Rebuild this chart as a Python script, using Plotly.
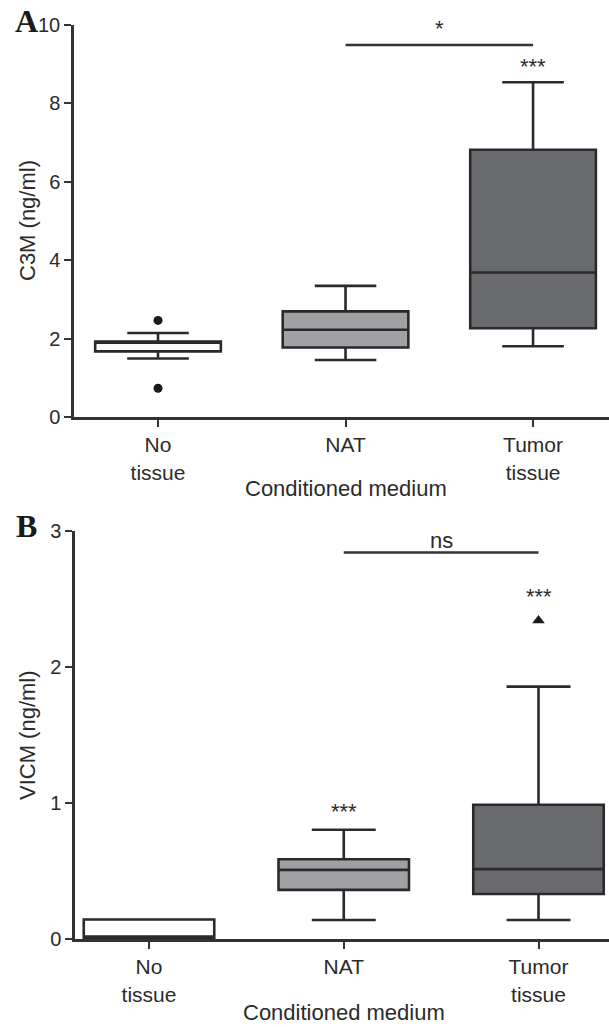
import plotly.graph_objects as go

W, H = 609, 1027

categories = ["No<br>tissue", "NAT", "Tumor<br>tissue"]
cat_pos = [0, 1, 2]
fills = ["#ffffff", "#a0a1a4", "#6a6b6f"]

# Panel A: C3M (ng/ml)
a_lower = [1.50, 1.46, 1.81]
a_q1 = [1.68, 1.78, 2.27]
a_median = [1.91, 2.23, 3.69]
a_q3 = [1.93, 2.70, 6.82]
a_upper = [2.15, 3.35, 8.54]
a_out_x = [0, 0]
a_out_y = [2.47, 0.74]
a_yticks = [0, 2, 4, 6, 8, 10]

# Panel B: VICM (ng/ml)
b_lower = [0.00, 0.142, 0.142]
b_q1 = [0.01, 0.363, 0.333]
b_median = [0.02, 0.51, 0.515]
b_q3 = [0.145, 0.588, 0.988]
b_upper = [0.145, 0.804, 1.855]
b_out_x = [2]
b_out_y = [2.34]
b_yticks = [0, 1, 2, 3]

# significance annotations: (x0, x1, bar y, label y, label)
a_bar = (1, 2, 9.49, 9.9, "*")
b_bar = (1, 2, 2.84, 2.93, "ns")
a_stars = [(2, 8.95, "***")]
b_stars = [(1, 0.94, "***"), (2, 2.52, "***")]

TXT = "#2b2b2b"
LINE = "#2a2a2a"
FONT = "Liberation Sans, Arial, sans-serif"


def py(px):
    return 1 - px / H


fig = go.Figure()

for i in range(3):
    fig.add_trace(go.Box(
        x=[cat_pos[i]], q1=[a_q1[i]], median=[a_median[i]], q3=[a_q3[i]],
        lowerfence=[a_lower[i]], upperfence=[a_upper[i]],
        width=0.67, whiskerwidth=0.49, fillcolor=fills[i],
        line=dict(color=LINE, width=2.6), boxpoints=False,
        xaxis="x", yaxis="y", showlegend=False, hoverinfo="skip"))
    fig.add_trace(go.Box(
        x=[cat_pos[i]], q1=[b_q1[i]], median=[b_median[i]], q3=[b_q3[i]],
        lowerfence=[b_lower[i]], upperfence=[b_upper[i]],
        width=0.67, whiskerwidth=0.49, fillcolor=fills[i],
        line=dict(color=LINE, width=2.6), boxpoints=False,
        xaxis="x2", yaxis="y2", showlegend=False, hoverinfo="skip"))

fig.add_trace(go.Scatter(x=a_out_x, y=a_out_y, mode="markers",
                         marker=dict(symbol="circle", size=9, color="#1a1a1a"),
                         xaxis="x", yaxis="y", showlegend=False, cliponaxis=False))
fig.add_trace(go.Scatter(x=b_out_x, y=b_out_y, mode="markers",
                         marker=dict(symbol="triangle-up", size=11, color="#1a1a1a"),
                         xaxis="x2", yaxis="y2", showlegend=False, cliponaxis=False))

# significance bars
for bar, xa, ya in [(a_bar, "x", "y"), (b_bar, "x2", "y2")]:
    fig.add_trace(go.Scatter(x=[bar[0], bar[1]], y=[bar[2], bar[2]], mode="lines",
                             line=dict(color="#333333", width=2.5),
                             xaxis=xa, yaxis=ya, showlegend=False, cliponaxis=False))

C = dict(xanchor="center", yanchor="middle", showarrow=False)
annotations = []
for bar, xr, yr in [(a_bar, "x", "y"), (b_bar, "x2", "y2")]:
    annotations.append(dict(x=(bar[0] + bar[1]) / 2, y=bar[3], xref=xr, yref=yr,
                            text=bar[4], font=dict(size=22, color=TXT, family=FONT), **C))
for stars, xr, yr in [(a_stars, "x", "y"), (b_stars, "x2", "y2")]:
    for s in stars:
        annotations.append(dict(x=s[0], y=s[1], xref=xr, yref=yr, text=s[2],
                                font=dict(size=22, color=TXT, family=FONT), **C))

# axis titles
annotations += [
    dict(x=1, y=py(489), xref="x", yref="paper", text="Conditioned medium",
         font=dict(size=22, color=TXT, family=FONT), **C),
    dict(x=1, y=py(1012), xref="x2", yref="paper", text="Conditioned medium",
         font=dict(size=22, color=TXT, family=FONT), **C),
    dict(x=27 / W, y=py(221), xref="paper", yref="paper", text="C3M (ng/ml)",
         textangle=-90, font=dict(size=22, color=TXT, family=FONT), **C),
    dict(x=27 / W, y=py(735), xref="paper", yref="paper", text="VICM (ng/ml)",
         textangle=-90, font=dict(size=22, color=TXT, family=FONT), **C),
    dict(x=26 / W, y=py(21), xref="paper", yref="paper", text="<b>A</b>",
         font=dict(size=32, color="#1a1a1a",
                   family="Liberation Serif, Times New Roman, serif"), **C),
    dict(x=26 / W, y=py(526), xref="paper", yref="paper", text="<b>B</b>",
         font=dict(size=32, color="#1a1a1a",
                   family="Liberation Serif, Times New Roman, serif"), **C),
]

xcommon = dict(tickmode="array", tickvals=cat_pos, ticktext=categories,
               showline=True, linecolor="#333333", linewidth=2.5,
               ticks="outside", ticklen=7, tickwidth=2, tickcolor="#333333",
               showgrid=False, zeroline=False, automargin=False,
               tickfont=dict(size=21, color=TXT, family=FONT))
ycommon = dict(showline=True, linecolor="#333333", linewidth=2.5,
               ticks="outside", ticklen=7, tickwidth=2, tickcolor="#333333",
               showgrid=False, zeroline=False, automargin=False,
               tickfont=dict(size=20, color=TXT, family=FONT))

fig.update_layout(
    width=W, height=H, autosize=False,
    margin=dict(l=0, r=0, t=0, b=0, pad=0, autoexpand=False),
    paper_bgcolor="white", plot_bgcolor="white",
    xaxis=dict(domain=[74 / W, 1], range=[-0.448, 2.405], anchor="y", **xcommon),
    yaxis=dict(domain=[py(417.3), py(25)], range=[0, 10], tickvals=a_yticks,
               anchor="x", **ycommon),
    xaxis2=dict(domain=[75 / W, 1], range=[-0.38, 2.362], anchor="y2", **xcommon),
    yaxis2=dict(domain=[py(939.3), py(530.7)], range=[0, 3], tickvals=b_yticks,
                anchor="x2", **ycommon),
    annotations=annotations,
)

fig.write_html("out.html", config={"displayModeBar": False},
               post_script="document.body.style.margin='0';")
